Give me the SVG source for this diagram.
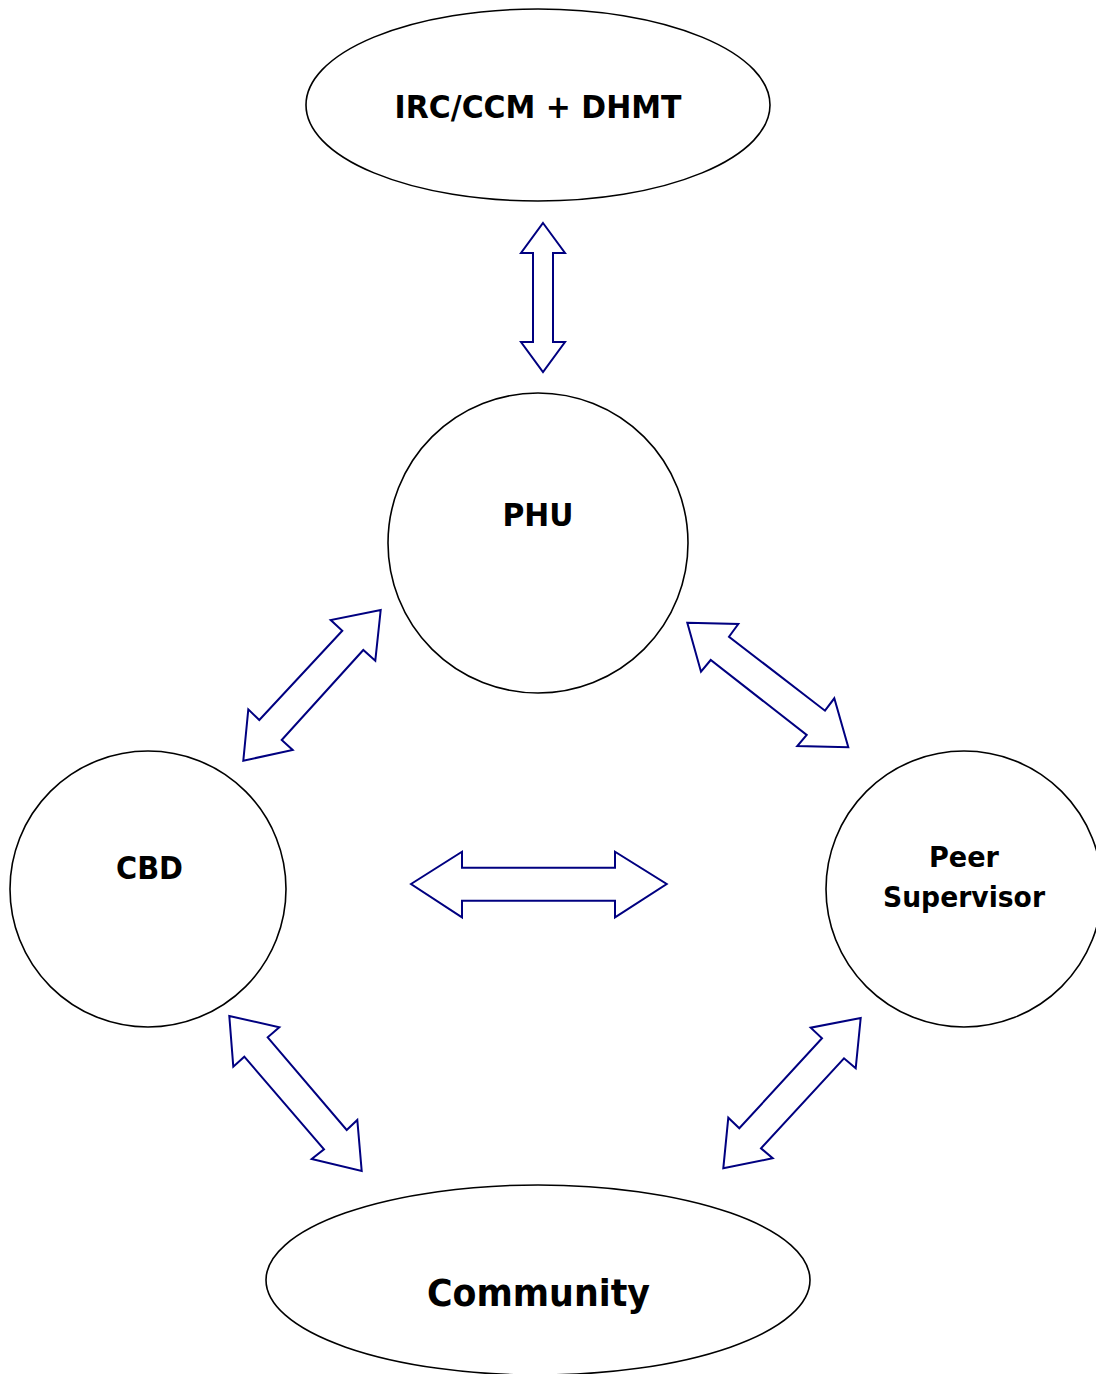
<svg xmlns="http://www.w3.org/2000/svg" width="1096" height="1374" viewBox="0 0 1096 1374">
<style>
.node{fill:#fff;stroke:#000;stroke-width:1.6}
.arrow{fill:#fff;stroke:#000080;stroke-width:2;stroke-linejoin:miter}
.lbl{font-family:"DejaVu Sans","Liberation Sans",sans-serif;font-weight:bold;fill:#000;text-anchor:middle}
</style>
<rect width="1096" height="1374" fill="#fff"/>
<g id="irc">
<ellipse class="node" cx="538" cy="105" rx="232" ry="96"/>
<text class="lbl" x="538" y="118" font-size="32" textLength="287" lengthAdjust="spacingAndGlyphs">IRC/CCM + DHMT</text>
</g>
<g id="phu">
<circle class="node" cx="538" cy="543" r="150"/>
<text class="lbl" x="538" y="526" font-size="32" textLength="71" lengthAdjust="spacingAndGlyphs">PHU</text>
</g>
<g id="cbd">
<circle class="node" cx="148" cy="889" r="138"/>
<text class="lbl" x="149.5" y="879" font-size="32" textLength="67" lengthAdjust="spacingAndGlyphs">CBD</text>
</g>
<g id="peer">
<circle class="node" cx="964" cy="889" r="138"/>
<text class="lbl" x="964" y="867" font-size="29" textLength="70" lengthAdjust="spacingAndGlyphs">Peer</text>
<text class="lbl" x="964" y="907" font-size="29" textLength="162" lengthAdjust="spacingAndGlyphs">Supervisor</text>
</g>
<g id="community">
<ellipse class="node" cx="538" cy="1280" rx="272" ry="95"/>
<text class="lbl" x="538.5" y="1306" font-size="38" textLength="223" lengthAdjust="spacingAndGlyphs">Community</text>
</g>
<g id="connectors">
<polygon class="arrow" points="543,223 565,253 553,253 553,342 565,342 543,372 521,342 533,342 533,253 521,253"/>
<polygon class="arrow" points="380.7,610 375.3,660.7 363.3,650 281.7,740 292.7,750 243.3,760.7 248.3,709.3 259.3,720 342.3,630.7 330.7,620"/>
<polygon class="arrow" points="687.3,622.7 738.3,624 729,636.7 825,710.7 834.3,698.3 848.3,747.3 797.3,746 806.7,735 710.7,660 701,671.7"/>
<polygon class="arrow" points="411,884 462,851.7 462,867.7 615,867.7 615,851.7 666.7,884 615,917.3 615,900.7 462,900.7 462,917.3"/>
<polygon class="arrow" points="229.3,1016 279.3,1027.3 267.7,1037.3 346.7,1130 357.3,1120 361.7,1171 311.7,1159 324,1149.3 244.3,1056.7 233.3,1066.7"/>
<polygon class="arrow" points="860.7,1018 855.7,1068.3 844,1058.3 761,1148.3 772.7,1158.3 723.3,1168.3 728.3,1117.7 739.3,1128.3 822,1038.3 810.7,1027.7"/>
</g>
</svg>
